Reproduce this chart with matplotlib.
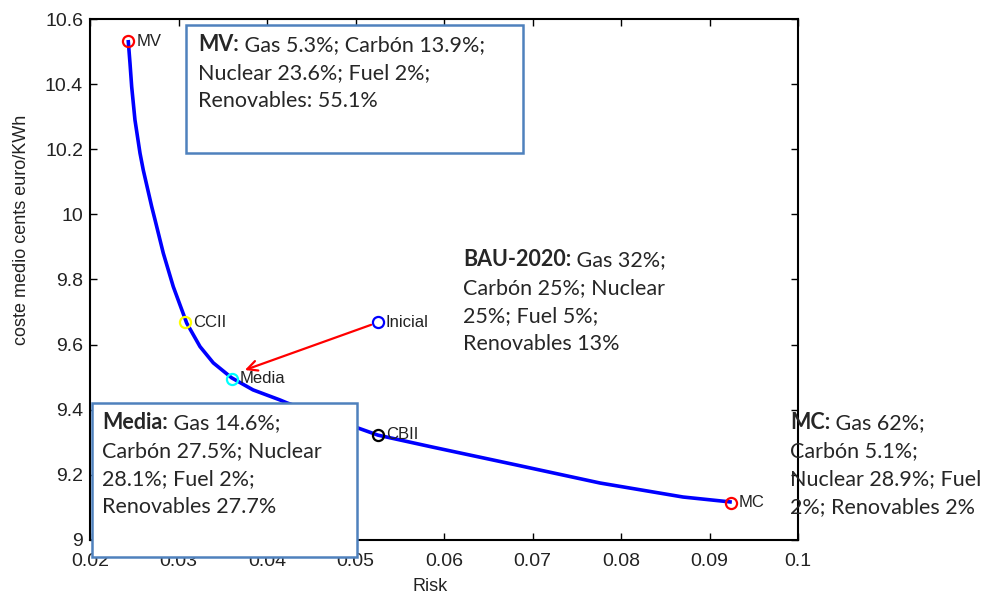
import matplotlib
matplotlib.use('Agg')
import matplotlib.pyplot as plt
from matplotlib.patches import Rectangle
from matplotlib.ticker import FuncFormatter

# efficient frontier (risk, average cost)
frontier_risk = [0.02433, 0.02452, 0.02471, 0.02508, 0.02565, 0.02602, 0.02697, 0.02735,
                 0.02828, 0.02941, 0.03093, 0.03243, 0.03393, 0.03601, 0.03842, 0.04147,
                 0.04226, 0.05028, 0.05254, 0.05876, 0.06825, 0.07763, 0.08701, 0.09232]
frontier_cost = [10.530, 10.464, 10.392, 10.290, 10.188, 10.136, 10.024, 9.983,
                 9.881, 9.778, 9.666, 9.594, 9.544, 9.498, 9.461, 9.430,
                 9.421, 9.344, 9.322, 9.285, 9.230, 9.175, 9.132, 9.117]

# named portfolios
point_names = ['MV', 'CCII', 'Media', 'Inicial', 'CBII', 'MC']
point_risk = [0.0243, 0.0307, 0.0360, 0.0525, 0.0525, 0.0924]
point_cost = [10.532, 9.668, 9.495, 9.668, 9.323, 9.114]
point_colors = ['red', 'yellow', 'cyan', 'blue', 'black', 'red']

# portfolio compositions
mv_lines = [' Gas 5.3%; Carbón 13.9%;', 'Nuclear 23.6%; Fuel 2%;', 'Renovables: 55.1%']
media_lines = [' Gas 14.6%;', 'Carbón 27.5%; Nuclear', '28.1%; Fuel 2%;', 'Renovables 27.7%']
bau_lines = [' Gas 32%;', 'Carbón 25%; Nuclear', '25%; Fuel 5%;', 'Renovables 13%']
mc_lines = [' Gas 62%;', 'Carbón 5.1%;', 'Nuclear 28.9%; Fuel', '2%; Renovables 2%']

fig = plt.figure(figsize=(9.93, 5.93), dpi=100)
ax = fig.add_axes([90 / 993, 1 - 540 / 593, 708 / 993, 521 / 593])

ax.plot(frontier_risk, frontier_cost, color='blue', linewidth=2.6, zorder=2)

for name, x, y, c in zip(point_names, point_risk, point_cost, point_colors):
    ax.plot(x, y, 'o', mfc='none', mec=c, ms=8, mew=1.6, zorder=3)
    ax.annotate(name, (x, y), xytext=(6, 0), textcoords='offset points',
                va='center', ha='left', fontsize=12, family='Liberation Sans',
                color='#222222')

# arrow from the initial mix towards the frontier
ax.annotate('', xy=(0.0375, 9.522), xytext=(point_risk[3], point_cost[3]),
            arrowprops=dict(arrowstyle='->', color='red', lw=1.6,
                            shrinkA=5, shrinkB=0, mutation_scale=18))

ax.set_xlim(0.02, 0.1)
ax.set_ylim(9, 10.6)
ax.set_xticks([0.02, 0.03, 0.04, 0.05, 0.06, 0.07, 0.08, 0.09, 0.1])
ax.set_yticks([9, 9.2, 9.4, 9.6, 9.8, 10, 10.2, 10.4, 10.6])
ax.xaxis.set_major_formatter(FuncFormatter(lambda v, p: '%g' % round(v, 3)))
ax.yaxis.set_major_formatter(FuncFormatter(lambda v, p: '%g' % round(v, 2)))
ax.tick_params(direction='in', top=True, right=True, length=5, width=1,
               labelsize=14, labelcolor='#222222')
ax.tick_params(axis='x', pad=9)
ax.tick_params(axis='y', pad=5)
for lab in ax.get_xticklabels() + ax.get_yticklabels():
    lab.set_family('Liberation Sans')
for s in ax.spines.values():
    s.set_linewidth(1.5)

ax.set_xlabel('Risk', fontsize=13, family='Liberation Sans', color='#222222')
ax.set_ylabel('coste medio cents euro/KWh', fontsize=13, family='Liberation Sans',
              color='#222222')
ax.xaxis.set_label_coords(0.48, -0.072)
ax.yaxis.set_label_coords(-0.085, 0.595)

box_color = '#4f81bd'
ax.add_patch(Rectangle((0.03085, 10.188), 0.03808, 0.394, fill=True, fc='white',
                       ec=box_color, lw=1.8, zorder=4, clip_on=False))
ax.add_patch(Rectangle((0.02023, 8.948), 0.02994, 0.473, fill=True, fc='white',
                       ec=box_color, lw=1.8, zorder=4, clip_on=False))

line_step = 28 / 325.6
baseline_shift = 6 / 325.6
text_kw = dict(fontsize=15.5, family='Lato', color='#262626', zorder=5)


def composition(x, y, title, lines):
    y0 = y - baseline_shift
    head = ax.text(x, y0, title, ha='left', va='baseline', fontweight='bold',
                   clip_on=False, **text_kw)
    # rest of the first line continues after the bold heading
    ax.annotate(lines[0], xy=(1, 0), xycoords=head, va='bottom', ha='left',
                annotation_clip=False, **text_kw)
    for i, line in enumerate(lines[1:], start=1):
        ax.text(x, y0 - i * line_step, line, ha='left', va='baseline',
                clip_on=False, **text_kw)


composition(0.0322, 10.520, 'MV:', mv_lines)
composition(0.02136, 9.359, 'Media:', media_lines)
composition(0.06215, 9.860, 'BAU-2020:', bau_lines)
composition(0.0991, 9.359, 'MC:', mc_lines)

fig.savefig('out.png', dpi=100)
